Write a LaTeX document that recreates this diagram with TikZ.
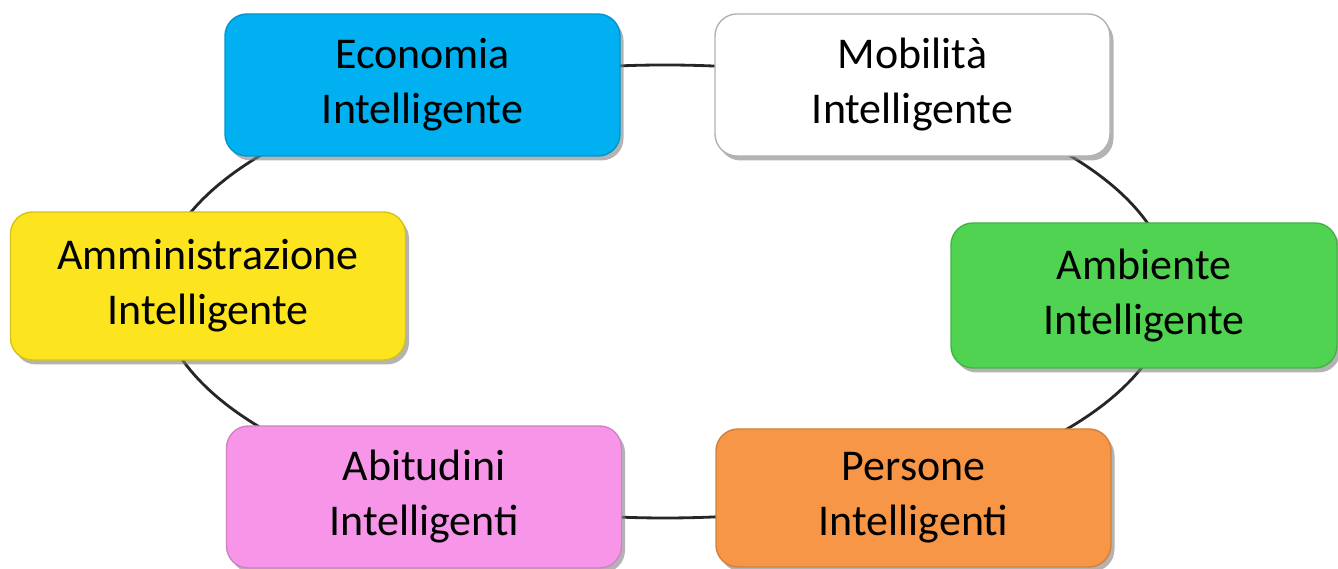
\documentclass[tikz,border=0pt]{standalone}
\usepackage{fontspec}
\setmainfont{Carlito}
\usetikzlibrary{shadows}

\definecolor{ecoblue}{HTML}{00B0F0}
\definecolor{ammyellow}{HTML}{FCE51E}
\definecolor{ambgreen}{HTML}{50D350}
\definecolor{abipink}{HTML}{F796E8}
\definecolor{perorange}{HTML}{F79646}

\begin{document}
\begin{tikzpicture}
\tikzstyle{area}=[rectangle,rounded corners=0.22cm,minimum width=3.95cm,minimum height=1.42cm,
  inner sep=0pt,align=center,line width=0.4pt,font=\fontsize{12.5}{15.65}\selectfont,
  drop shadow={shadow xshift=0.35mm,shadow yshift=-0.45mm,fill=black!50,opacity=0.6}]
\tikzstyle{ring}=[draw=black!85,line width=0.8pt]

\useasboundingbox (0,0) rectangle (13.38,5.69);

% Draw the ring behind the areas
\coordinate (C) at (6.65,2.775);
\draw[ring] (C) ellipse (5.06cm and 2.265cm);

% Draw the areas, top row first
\node[area,fill=ecoblue,draw=ecoblue!85!black] (eco) at (4.225,4.84) {Economia\\Intelligente};
\node[area,fill=white,draw=black!30] (mob) at (9.125,4.84) {Mobilità\\Intelligente};

% Middle row
\node[area,fill=ammyellow,draw=ammyellow!85!black,minimum height=1.48cm] (amm) at (2.08,2.83) {Amministrazione\\Intelligente};
\node[area,fill=ambgreen,draw=ambgreen!85!black,minimum width=3.86cm,minimum height=1.45cm] (amb) at (11.44,2.735) {Ambiente\\Intelligente};

% Bottom row
\node[area,fill=abipink,draw=abipink!85!black] (abi) at (4.24,0.72) {Abitudini\\Intelligenti};
\node[area,fill=perorange,draw=perorange!85!black,minimum height=1.38cm] (per) at (9.135,0.71) {Persone\\Intelligenti};
\end{tikzpicture}
\end{document}
